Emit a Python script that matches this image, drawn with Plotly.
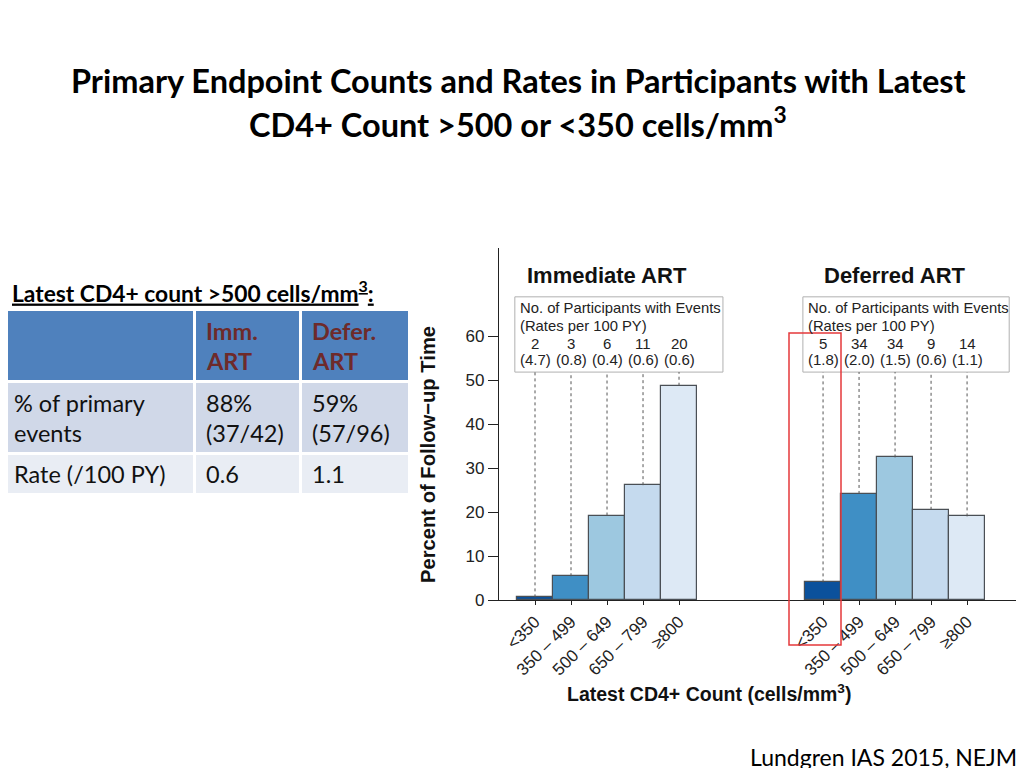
import plotly.graph_objects as go

# ---------------- data ----------------
categories = ["<350", "350 – 499", "500 – 649", "650 – 799", "≥800"]
imm_pct = [0.6, 5.4, 19.2, 26.1, 48.7]
def_pct = [4.0, 24.1, 32.4, 20.5, 19.0]
imm_events = ["2", "3", "6", "11", "20"]
imm_rates = ["(4.7)", "(0.8)", "(0.4)", "(0.6)", "(0.6)"]
def_events = ["5", "34", "34", "9", "14"]
def_rates = ["(1.8)", "(2.0)", "(1.5)", "(0.6)", "(1.1)"]
bar_colors = ["#0b519c", "#3f8fc5", "#9dc8e0", "#c5daee", "#dde9f5"]

table_header = ["", "Imm.<br>ART", "Defer.<br>ART"]
table_row1 = ["% of primary<br>events", "88%<br>(37/42)", "59%<br>(57/96)"]
table_row2 = ["Rate (/100 PY)", "0.6", "1.1"]

imm_x = [0, 1, 2, 3, 4]
def_x = [8, 9, 10, 11, 12]

# ---------------- layout helpers (window pixel -> paper) ----------------
OFF = 8  # browser default body margin
L, R, T, B = 499, 1020, 248, 600
def px_x(px):
    return (px - L) / (R - L)
def px_y(py):
    return (B - py) / (B - T)

AR = "Liberation Sans"
CAL = "Lato"

fig = go.Figure()

# dashed guide lines from bar top to box bottom
box_bottom = 51.8
lx, ly = [], []
for xs, vals in ((imm_x, imm_pct), (def_x, def_pct)):
    for x, v in zip(xs, vals):
        lx += [x, x, None]
        ly += [v, box_bottom, None]
fig.add_trace(go.Scatter(x=lx, y=ly, mode="lines",
                         line=dict(color="#555555", width=1, dash="3px,3px"),
                         hoverinfo="skip", showlegend=False))

fig.add_trace(go.Bar(x=imm_x, y=imm_pct, width=1.0,
                     marker=dict(color=bar_colors, line=dict(color="#4a4f55", width=1.2)),
                     showlegend=False))
fig.add_trace(go.Bar(x=def_x, y=def_pct, width=1.0,
                     marker=dict(color=bar_colors, line=dict(color="#4a4f55", width=1.2)),
                     showlegend=False))

shapes = []
annotations = []

# info boxes
for x0, x1, xs, ev, rt, ttl in ((-0.56, 5.22, imm_x, imm_events, imm_rates, "Immediate ART"),
                                (7.44, 13.17, def_x, def_events, def_rates, "Deferred ART")):
    shapes.append(dict(type="rect", xref="x", yref="y", x0=x0, x1=x1, y0=box_bottom, y1=68.9,
                       line=dict(color="#b0b0b0", width=1), fillcolor="white", layer="below"))
    annotations.append(dict(x=x0 + 0.08, y=66.4, xref="x", yref="y", xanchor="left", yanchor="middle",
                            text="No. of Participants with Events", showarrow=False,
                            font=dict(family=AR, size=14.8, color="#222")))
    annotations.append(dict(x=x0 + 0.08, y=62.3, xref="x", yref="y", xanchor="left", yanchor="middle",
                            text="(Rates per 100 PY)", showarrow=False,
                            font=dict(family=AR, size=14.8, color="#222")))
    for x, e, r in zip(xs, ev, rt):
        annotations.append(dict(x=x, y=58.3, xref="x", yref="y", text=e, showarrow=False,
                                xanchor="center", yanchor="middle",
                                font=dict(family=AR, size=15, color="#222")))
        annotations.append(dict(x=x, y=54.6, xref="x", yref="y", text=r, showarrow=False,
                                xanchor="center", yanchor="middle",
                                font=dict(family=AR, size=15, color="#222")))
    annotations.append(dict(x=(xs[0] + xs[-1]) / 2, y=px_y(275), xref="x", yref="paper",
                            text="<b>" + ttl + "</b>", showarrow=False,
                            xanchor="center", yanchor="middle",
                            font=dict(family=AR, size=22, color="#111")))

# red highlight rectangle
shapes.append(dict(type="rect", xref="paper", yref="paper",
                   x0=px_x(789), x1=px_x(841), y0=px_y(645), y1=px_y(333),
                   line=dict(color="#e5383b", width=1.5), fillcolor="rgba(0,0,0,0)"))

# axis titles
annotations.append(dict(x=px_x(709), y=px_y(693), xref="paper", yref="paper", showarrow=False,
                        text="<b>Latest CD4+ Count (cells/mm<sup>3</sup>)</b>",
                        xanchor="center", yanchor="middle",
                        font=dict(family=AR, size=19.5, color="#111")))
annotations.append(dict(x=px_x(428), y=px_y(455), xref="paper", yref="paper", showarrow=False,
                        text="<b>Percent of Follow−up Time</b>", textangle=-90,
                        xanchor="center", yanchor="middle",
                        font=dict(family=AR, size=20.2, color="#111")))

# slide title
annotations.append(dict(x=px_x(518), y=px_y(80), xref="paper", yref="paper", showarrow=False,
                        text="<b>Primary Endpoint Counts and Rates in Participants with Latest</b>",
                        xanchor="center", yanchor="middle",
                        font=dict(family=CAL, size=32.5, color="#000")))
annotations.append(dict(x=px_x(518), y=px_y(122), xref="paper", yref="paper", showarrow=False,
                        text="<b>CD4+ Count >500 or <350 cells/mm<sup>3</sup></b>",
                        xanchor="center", yanchor="middle",
                        font=dict(family=CAL, size=32.5, color="#000")))

# table heading
annotations.append(dict(x=px_x(10), y=px_y(291), xref="paper", yref="paper", showarrow=False,
                        xanchor="left", yanchor="middle",
                        text="<b><u>Latest CD4+ count >500 cells/mm<sup>3</sup>:</u></b>",
                        font=dict(family=CAL, size=22.8, color="#000")))

# table cells
col_x = [(4, 193), (196, 299), (302, 408)]
rows = [((311, 380), "#4f81bd", table_header),
        ((383, 452), "#d0d8e8", table_row1),
        ((455, 493), "#e9edf4", table_row2)]
for ri, ((y0, y1), fill, cells) in enumerate(rows):
    for (x0, x1), txt in zip(col_x, cells):
        shapes.append(dict(type="rect", xref="paper", yref="paper",
                           x0=px_x(x0), x1=px_x(x1), y0=px_y(y1), y1=px_y(y0),
                           line=dict(width=0), fillcolor=fill))
        if not txt:
            continue
        lines = txt.split("<br>")
        n = len(lines)
        yc = (y0 + y1) / 2
        for li, line in enumerate(lines):
            yy = yc + (li - (n - 1) / 2) * 30
            if ri == 0:
                t = "<b>" + line + "</b>"
                col = "#6e2a2a"
            else:
                t = line
                col = "#111"
            annotations.append(dict(x=px_x(x0 + 8), y=px_y(yy), xref="paper", yref="paper",
                                    showarrow=False, xanchor="left", yanchor="middle", text=t,
                                    font=dict(family=CAL, size=23.5, color=col)))

# citation
annotations.append(dict(x=px_x(748), y=px_y(757), xref="paper", yref="paper", showarrow=False,
                        xanchor="left", yanchor="middle", text="Lundgren IAS 2015, NEJM",
                        font=dict(family=CAL, size=23, color="#000")))

fig.update_layout(
    width=1024 - OFF, height=768 - OFF,
    margin=dict(l=L - OFF, r=1024 - R, t=T - OFF, b=768 - B, pad=0),
    paper_bgcolor="white", plot_bgcolor="white",
    barmode="overlay", bargap=0,
    shapes=shapes, annotations=annotations,
    xaxis=dict(range=[-1, 13.47], tickvals=imm_x + def_x, ticktext=categories + categories,
               tickangle=-45, showgrid=False, zeroline=False, showline=True,
               linecolor="#222", linewidth=1.2, ticks="outside", ticklen=4, tickcolor="#222",
               tickfont=dict(family=AR, size=17, color="#222")),
    yaxis=dict(range=[0, 80], tickvals=[0, 10, 20, 30, 40, 50, 60], showgrid=False,
               zeroline=False, showline=True, linecolor="#222", linewidth=1.2,
               ticks="outside", ticklen=10, tickcolor="#222",
               tickfont=dict(family=AR, size=17, color="#222")),
)

fig.write_html("out.html")
